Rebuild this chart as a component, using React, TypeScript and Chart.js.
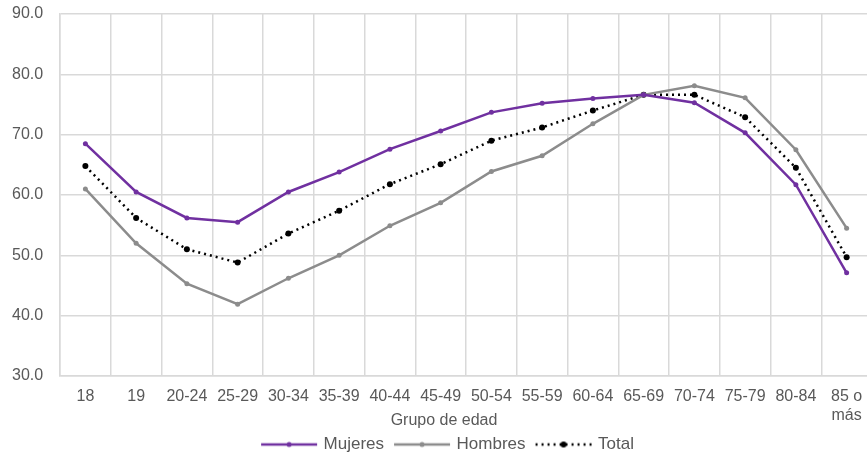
import React, { useEffect, useRef } from "react";
import { Chart, registerables } from "chart.js";

Chart.register(...registerables);

const categories: (string | string[])[] = [
  "18", "19", "20-24", "25-29", "30-34", "35-39", "40-44", "45-49",
  "50-54", "55-59", "60-64", "65-69", "70-74", "75-79", "80-84", ["85 o", "más"],
];
const mujeres = [68.5, 60.5, 56.2, 55.5, 60.5, 63.8, 67.6, 70.6, 73.7, 75.2, 76.0, 76.6, 75.3, 70.3, 61.7, 47.1];
const hombres = [61.0, 52.0, 45.3, 41.9, 46.2, 50.0, 54.9, 58.7, 63.9, 66.5, 71.8, 76.6, 78.1, 76.1, 67.5, 54.5];
const total = [64.8, 56.2, 51.0, 48.8, 53.6, 57.4, 61.8, 65.1, 69.0, 71.2, 74.0, 76.6, 76.6, 72.9, 64.5, 49.7];
const seriesNames = ["Mujeres", "Hombres", "Total"];

const PURPLE = "#7030A0";
const GRAY = "#8C8C8C";
const BLACK = "#000000";
const TEXT = "#595959";
const GRID = "#D9D9D9";

function legendImage(color: string, dash: number[], radius: number, width: number) {
  const c = document.createElement("canvas");
  c.width = 67;
  c.height = 12;
  const ctx = c.getContext("2d")!;
  ctx.strokeStyle = color;
  ctx.lineWidth = width;
  ctx.setLineDash(dash);
  ctx.beginPath();
  ctx.moveTo(10, 6);
  ctx.lineTo(66, 6);
  ctx.stroke();
  ctx.setLineDash([]);
  ctx.fillStyle = color;
  ctx.beginPath();
  ctx.arc(38, 6, radius, 0, Math.PI * 2);
  ctx.fill();
  return c;
}

export default function App() {
  const ref = useRef<HTMLCanvasElement | null>(null);
  useEffect(() => {
    if (!ref.current) return;
    Chart.defaults.font.family = "'Liberation Sans', Arial, sans-serif";
    const imgs = [
      legendImage(PURPLE, [], 2.5, 2.5),
      legendImage(GRAY, [], 2.5, 2.5),
      legendImage(BLACK, [2, 4], 3, 2.5),
    ];
    const chart = new Chart(ref.current, {
      type: "line",
      data: {
        labels: categories,
        datasets: [
          {
            label: seriesNames[0], data: mujeres, borderColor: PURPLE, backgroundColor: PURPLE,
            borderWidth: 2.5, pointRadius: 2.5, pointBorderWidth: 0, tension: 0,
          },
          {
            label: seriesNames[1], data: hombres, borderColor: GRAY, backgroundColor: GRAY,
            borderWidth: 2.5, pointRadius: 2.5, pointBorderWidth: 0, tension: 0,
          },
          {
            label: seriesNames[2], data: total, borderColor: BLACK, backgroundColor: BLACK,
            borderWidth: 2.5, borderDash: [2, 4], pointRadius: 3, pointBorderWidth: 0, tension: 0,
          },
        ],
      },
      options: {
        responsive: false,
        animation: false,
        layout: { padding: { left: 12, right: 0, top: 14, bottom: -9 } },
        scales: {
          x: {
            offset: true,
            grid: {
              color: GRID, lineWidth: 1.5, drawTicks: true, tickLength: 11.8,
              tickColor: "rgba(0,0,0,0)", offset: true,
            },
            border: { color: GRID, width: 1.5 },
            ticks: {
              color: TEXT, font: { size: 16, lineHeight: 1.15 }, padding: 0,
              maxRotation: 0, autoSkip: false,
            },
          },
          y: {
            min: 30, max: 90,
            grid: { color: GRID, lineWidth: 1.5, drawTicks: false },
            border: { color: GRID, width: 1.5 },
            ticks: {
              stepSize: 10, color: TEXT, font: { size: 16 }, padding: 0,
              crossAlign: "far",
              callback: (v: any) => Number(v).toFixed(1),
            },
            afterFit: (s: any) => { s.width = 48; },
          },
        },
        plugins: {
          title: {
            display: true,
            text: "Grupo de edad",
            position: "bottom",
            weight: 500,
            fullSize: true,
            color: TEXT,
            font: { size: 16, weight: "normal", lineHeight: 1.15 },
            padding: { top: -12.8, bottom: 2.8 },
          } as any,
          legend: {
            position: "bottom",
            labels: {
              color: TEXT,
              font: { size: 17 },
              usePointStyle: true,
              pointStyleWidth: 61,
              boxHeight: 12,
              padding: 3,
              generateLabels: (ch: any) =>
                ch.data.datasets.map((d: any, i: number) => ({
                  text: d.label,
                  fillStyle: d.borderColor,
                  strokeStyle: d.borderColor,
                  lineWidth: 0,
                  pointStyle: imgs[i],
                  datasetIndex: i,
                  hidden: false,
                  fontColor: TEXT,
                })),
            },
          },
          tooltip: { enabled: false },
        },
      },
    });
    return () => chart.destroy();
  }, []);
  return (
    <div style={{ position: "fixed", left: 0, top: 0, width: 867, height: 454, overflow: "hidden", background: "#fff" }}>
      <canvas ref={ref} width={876} height={454} style={{ width: 876, height: 454, display: "block" }} />
    </div>
  );
}
